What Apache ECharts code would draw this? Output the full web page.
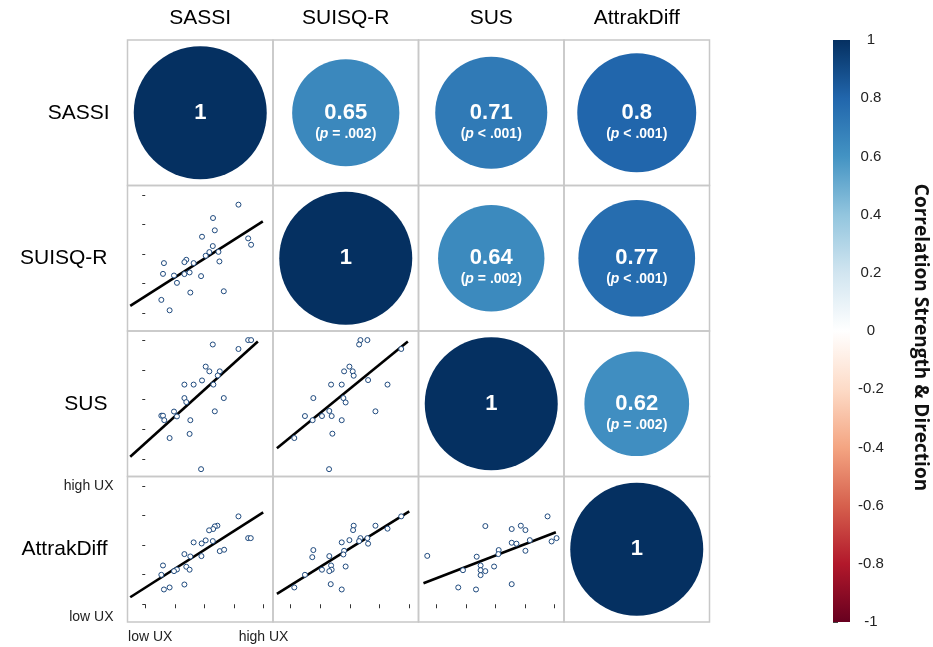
<!DOCTYPE html>
<html><head><meta charset="utf-8">
<script src="https://cdn.jsdelivr.net/npm/echarts@6/dist/echarts.min.js"></script>
<style>html,body{margin:0;padding:0;background:#fff}#c{width:933px;height:647px}</style>
</head><body><div id="c"></div>
<script>
// ---------- data ----------
const variables = ['SASSI', 'SUISQ-R', 'SUS', 'AttrakDiff'];

// correlation cells (diagonal + upper triangle)
const corrRow = [0, 0, 0, 0, 1, 1, 1, 2, 2, 3];
const corrCol = [0, 1, 2, 3, 1, 2, 3, 2, 3, 3];
const corrR   = [1, 0.65, 0.71, 0.8, 1, 0.64, 0.77, 1, 0.62, 1];
const corrP   = ['', '= .002', '< .001', '< .001', '', '= .002', '< .001', '', '= .002', ''];

// scatter panels (lower triangle), values on a 0 (low UX) .. 100 (high UX) scale
const p10x = [78.8, 57.3, 58.8, 48.0, 87.0, 89.5, 57.1, 54.2, 61.9, 51.1, 34.7, 33.1, 40.9, 15.8, 62.7, 15.0, 24.3, 33.1, 37.5, 47.2, 26.8, 38.1, 66.4, 13.6, 20.6];
const p10y = [91.8, 80.5, 70.1, 64.7, 63.3, 57.9, 56.8, 51.7, 51.9, 48.6, 45.2, 43.2, 42.4, 42.4, 43.8, 33.3, 31.9, 33.1, 34.5, 31.4, 25.7, 17.5, 18.6, 11.3, 2.5];
const p20x = [57.1, 78.8, 87.0, 89.5, 51.1, 54.2, 63.0, 61.3, 33.1, 40.9, 48.0, 57.6, 33.1, 34.7, 66.4, 24.3, 26.8, 13.6, 15.0, 16.1, 38.1, 58.8, 20.6, 37.5, 47.2];
const p20y = [96.6, 92.8, 100.3, 100.3, 77.9, 73.9, 73.9, 70.4, 62.7, 62.7, 66.2, 62.7, 51.3, 47.9, 51.3, 39.9, 35.8, 36.4, 36.4, 32.6, 32.6, 40.1, 17.5, 21.0, -8.8];
const p21x = [58.9, 64.8, 57.8, 93.4, 49.6, 45.1, 52.4, 53.2, 65.4, 34.1, 43.1, 81.8, 19.1, 44.5, 46.4, 71.6, 32.6, 34.6, 26.4, 12.0, 18.5, 43.1, 35.2, 3.0, 32.4];
const p21y = [100.3, 100.3, 96.6, 92.8, 77.9, 73.9, 73.9, 70.2, 66.5, 62.7, 62.7, 62.7, 51.3, 51.3, 47.6, 40.1, 40.4, 36.1, 36.1, 36.1, 32.6, 32.6, 21.2, 17.5, -8.8];
const p30x = [78.8, 61.0, 58.8, 57.4, 54.0, 51.1, 47.7, 57.1, 40.9, 87.0, 89.2, 63.0, 66.7, 33.1, 38.1, 47.5, 15.0, 34.7, 37.5, 26.8, 24.3, 13.6, 33.1, 20.6, 15.8];
const p30y = [74.3, 66.4, 65.8, 63.6, 62.5, 54.0, 51.4, 53.4, 52.3, 55.9, 55.9, 44.9, 46.1, 42.4, 40.4, 40.7, 32.8, 31.7, 29.2, 29.4, 28.0, 24.9, 16.7, 14.2, 12.5];
const p31x = [93.4, 71.6, 81.8, 53.2, 52.7, 58.9, 64.8, 57.8, 65.4, 49.6, 43.1, 45.1, 44.5, 19.1, 18.2, 32.6, 34.1, 46.4, 26.4, 34.6, 32.6, 12.0, 3.0, 33.8, 43.1];
const p31y = [74.3, 66.4, 63.9, 66.4, 62.7, 55.9, 55.9, 53.4, 51.2, 54.2, 52.3, 45.2, 42.1, 45.8, 39.8, 40.7, 32.8, 31.9, 29.2, 29.2, 28.0, 24.9, 14.2, 17.0, 12.5];
const p32x = [94.1, 41.5, 63.8, 71.5, 75.4, 63.8, 67.8, 79.1, 97.5, 101.7, 52.8, 52.5, 75.4, -7.6, 34.2, 37.5, 48.9, 22.6, 37.5, 41.5, 37.5, 63.8, 18.6, 33.6];
const p32y = [74.3, 66.1, 63.6, 66.4, 62.7, 52.0, 51.2, 54.2, 53.1, 55.9, 45.8, 42.4, 45.2, 40.9, 40.2, 32.8, 31.9, 28.8, 28.8, 28.0, 24.6, 17.0, 14.2, 12.5];

// regression line end points [x1, y1, x2, y2]
const fit10 = [-12.7, 6.2, 99.4, 77.7];
const fit20 = [-12.7, 1.7, 95.2, 99.1];
const fit21 = [-11.7, 8.9, 99.0, 99.1];
const fit30 = [-12.7, 5.9, 99.7, 77.7];
const fit31 = [-11.7, 8.8, 100.2, 78.6];
const fit32 = [-10.8, 17.8, 101.1, 60.8];

// tick values / labels
const uxTicks = [0, 25, 50, 75, 100];
const uxLabelValues = [0, 100];
const uxLabelText = ['low UX', 'high UX'];
const colorbarTitle = 'Correlation Strength & Direction';

// ---------- chart ----------
const rdbu = ['#67001F', '#B2182B', '#D6604D', '#F4A582', '#FDDBC7', '#FFFFFF', '#D1E5F0', '#92C5DE', '#4393C3', '#2166AC', '#053061'];
const panels = {
  '1,0': [p10x, p10y, fit10], '2,0': [p20x, p20y, fit20], '2,1': [p21x, p21y, fit21],
  '3,0': [p30x, p30y, fit30], '3,1': [p31x, p31y, fit31], '3,2': [p32x, p32y, fit32]
};
const font = '"Liberation Sans", Arial, Helvetica, sans-serif';
const cell = 145.5, gx0 = 127.5, gy0 = 40;
const grid = [], xAxis = [], yAxis = [], series = [], circleSeries = [];
const nameStyle = { fontFamily: font, fontSize: 21, color: '#000' };
const tickLabStyle = { fontFamily: font, fontSize: 14, color: '#222' };

for (let r = 0; r < 4; r++) {
  for (let c = 0; c < 4; c++) {
    const gi = grid.length;
    grid.push({ left: gx0 + c * cell, top: gy0 + r * cell, width: cell, height: cell,
      outerBoundsMode: 'none', containLabel: false,
      show: true, borderColor: '#c8c8c8', borderWidth: 1.5, backgroundColor: 'rgba(0,0,0,0)' });
    if (r <= c) {
      xAxis.push({ gridIndex: gi, type: 'value', min: 0, max: 1, position: 'top',
        axisLine: { show: false }, axisTick: { show: false }, axisLabel: { show: false }, splitLine: { show: false },
        name: r === 0 ? variables[c] : '', nameLocation: 'middle', nameGap: 11, nameMoveOverlap: false, nameTextStyle: nameStyle });
      yAxis.push({ gridIndex: gi, type: 'value', min: 0, max: 1, position: 'left',
        axisLine: { show: false }, axisTick: { show: false }, axisLabel: { show: false }, splitLine: { show: false },
        name: c === 0 ? variables[r] : '', nameLocation: 'middle', nameRotate: 0, nameGap: 18, nameMoveOverlap: false, nameTextStyle: nameStyle });
      let k = 0;
      for (let i = 0; i < corrRow.length; i++) if (corrRow[i] === r && corrCol[i] === c) k = i;
      const pTxt = corrP[k];
      circleSeries.push(series.length);
      series.push({
        type: 'scatter', xAxisIndex: gi, yAxisIndex: gi, silent: true,
        data: [[0.5, 0.5, corrR[k]]],
        symbol: 'circle',
        symbolSize: (v) => 133 * Math.sqrt(Math.abs(v[2])),
        itemStyle: { opacity: 1 },
        label: {
          show: true, position: 'inside', offset: [0, pTxt ? 9 : 0],
          formatter: (p) => pTxt ? '{v|' + p.data[2] + '}\n{p|(}{pi|p}{p| ' + pTxt + ')}' : '{v|' + p.data[2] + '}',
          rich: {
            v: { fontFamily: font, fontWeight: 'bold', fontSize: 22, color: '#fff', lineHeight: 24, align: 'center' },
            p: { fontFamily: font, fontWeight: 'bold', fontSize: 14, color: '#fff', lineHeight: 18 },
            pi: { fontFamily: font, fontWeight: 'bold', fontStyle: 'italic', fontSize: 14, color: '#fff', lineHeight: 18 }
          }
        }
      });
    } else {
      const [px, py, fit] = panels[r + ',' + c];
      xAxis.push({ gridIndex: gi, type: 'value', min: -15, max: 108, position: 'bottom', offset: 2,
        axisLine: { show: false }, splitLine: { show: false },
        axisTick: { show: r === 3, customValues: uxTicks, length: 4, lineStyle: { color: '#333', width: 1 } },
        axisLabel: { show: r === 3 && c === 0, customValues: uxLabelValues, margin: 6, ...tickLabStyle,
          formatter: (v) => v === uxLabelValues[0] ? '{lo|' + uxLabelText[0] + '}' : '{hi|' + uxLabelText[1] + '}',
          rich: { lo: { ...tickLabStyle, padding: [0, 0, 0, 10] }, hi: { ...tickLabStyle } } } });
      yAxis.push({ gridIndex: gi, type: 'value', min: -15, max: 108, position: 'left', offset: 4,
        axisLine: { show: false }, splitLine: { show: false },
        axisTick: { show: c === 0, customValues: uxTicks, length: 3, lineStyle: { color: '#333', width: 1 } },
        axisLabel: { show: c === 0 && r === 3, customValues: uxLabelValues, margin: 10, ...tickLabStyle,
          formatter: (v) => v === uxLabelValues[0] ? '{lo|' + uxLabelText[0] + '}' : '{hi|' + uxLabelText[1] + '}',
          rich: { lo: { ...tickLabStyle, padding: [26, 0, 0, 0] }, hi: { ...tickLabStyle } } },
        name: c === 0 ? variables[r] : '', nameLocation: 'middle', nameRotate: 0, nameGap: 16, nameMoveOverlap: false, nameTextStyle: nameStyle });
      series.push({
        type: 'line', xAxisIndex: gi, yAxisIndex: gi, silent: true, z: 2,
        data: [[fit[0], fit[1]], [fit[2], fit[3]]], symbol: 'none',
        lineStyle: { color: '#000', width: 2.6 }
      });
      series.push({
        type: 'scatter', xAxisIndex: gi, yAxisIndex: gi, silent: true, z: 3,
        data: px.map((x, i) => [x, py[i]]), symbol: 'circle', symbolSize: 5,
        itemStyle: { color: '#fff', borderColor: '#1f4a7e', borderWidth: 1, opacity: 1 }
      });
    }
  }
}

// colour bar
const cbi = grid.length;
grid.push({ left: 833, top: 40, width: 17, height: 582, show: false, outerBoundsMode: 'none', containLabel: false });
xAxis.push({ gridIndex: cbi, type: 'value', min: 0, max: 1, show: false });
yAxis.push({ gridIndex: cbi, type: 'value', min: -1, max: 1, interval: 0.2, position: 'right',
  axisLine: { show: false }, splitLine: { show: false },
  axisTick: { show: true, length: 5, lineStyle: { color: '#444' } },
  axisLabel: { margin: 21, align: 'center', fontFamily: font, fontSize: 15, color: '#222' },
  name: colorbarTitle, nameLocation: 'middle', nameRotate: -90, nameGap: 61, nameMoveOverlap: false,
  nameTextStyle: { fontFamily: '"Open Sans", sans-serif', fontWeight: 'bold', fontSize: 19, color: '#111', padding: [0, 0, 0, 13] } });
series.push({
  type: 'custom', xAxisIndex: cbi, yAxisIndex: cbi, silent: true,
  data: [[0, -1, 1]],
  renderItem: (params, api) => {
    const a = api.coord([0, 1]), b = api.coord([1, -1]);
    return { type: 'rect', shape: { x: a[0], y: a[1], width: b[0] - a[0], height: b[1] - a[1] },
      style: { fill: new echarts.graphic.LinearGradient(0, 0, 0, 1,
        rdbu.slice().reverse().map((col, i) => ({ offset: i / (rdbu.length - 1), color: col }))) } };
  }
});

const chart = echarts.init(document.getElementById('c'));
chart.setOption({
  animation: false,
  backgroundColor: '#fff',
  grid, xAxis, yAxis, series,
  visualMap: { type: 'continuous', show: false, min: -1, max: 1, dimension: 2,
    seriesIndex: circleSeries, inRange: { color: rdbu } }
});
</script>
</body></html>
